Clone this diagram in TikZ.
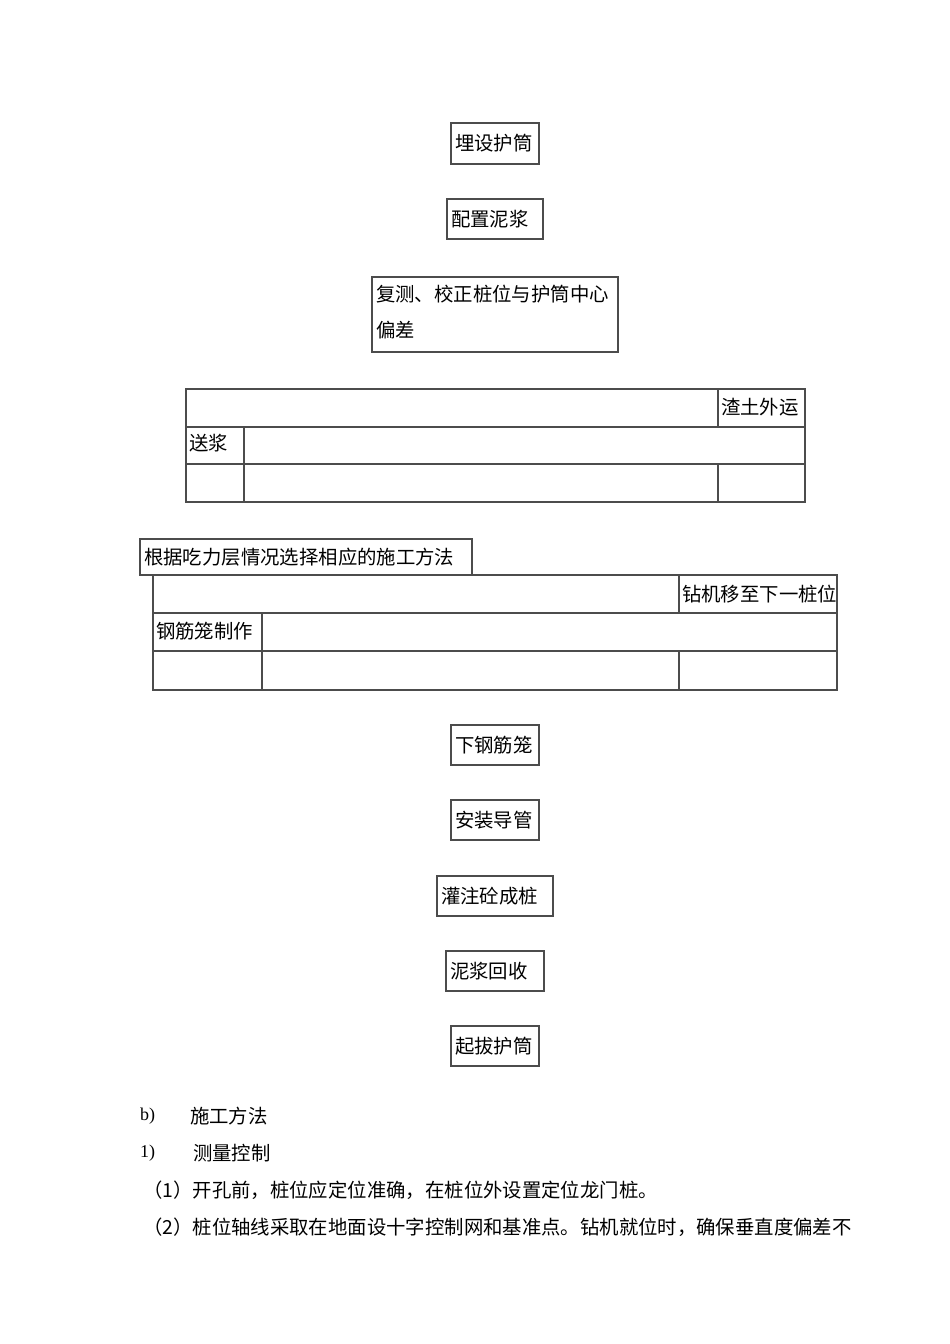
\documentclass[tikz,border=0pt]{standalone}
\usepackage{fontspec}
\setmainfont{Liberation Serif}
\newfontfamily\cjk{Noto Sans CJK SC}[Scale=1.14]
\begin{document}
\begin{tikzpicture}[x=1pt,y=-1pt,
  frame/.style={draw=black!70,line width=1.8pt},
  cell/.style={draw=black!70,line width=1.4pt},
  tx/.style={anchor=west,inner sep=0pt,font=\cjk\fontsize{17}{20}\selectfont}]
\useasboundingbox (0,0) rectangle (950,1344);
\newcommand{\bxx}[5]{\draw[frame] (#1,#2) rectangle (#3,#4); \node[tx] (#5) at (#1+4,{(#2+#4)/2})}
\bxx{451}{123}{539}{164}{n1} {埋设护筒};
\bxx{447}{199}{543}{239}{n2} {配置泥浆};
\draw[frame] (372,277) rectangle (618,352);
\node[tx] (n3) at (376,294) {复测、校正桩位与护筒中心};
\node[tx] (n3b) at (376,330) {偏差};
% table 1
\draw[frame] (186,389) rectangle (805,502);
\draw[cell] (186,427) -- (805,427) (186,464) -- (805,464)
  (718,389) -- (718,427) (244,427) -- (244,502) (718,464) -- (718,502);
\node[tx] (t1a) at (721,407) {渣土外运};
\node[tx] (t1b) at (189,443) {送浆};
% box 5
\bxx{140}{539}{472}{575}{n5} {根据吃力层情况选择相应的施工方法};
% table 2
\draw[frame] (153,575) rectangle (837,690);
\draw[cell] (153,613) -- (837,613) (153,651) -- (837,651)
  (679,575) -- (679,613) (262,613) -- (262,690) (679,651) -- (679,690);
\node[tx] (t2a) at (682,594) {钻机移至下一桩位};
\node[tx] (t2b) at (156,631) {钢筋笼制作};
\bxx{451}{725}{539}{765}{n7} {下钢筋笼};
\bxx{451}{800}{539}{840}{n8} {安装导管};
\bxx{437}{876}{553}{916}{n9} {灌注砼成桩};
\bxx{446}{951}{544}{991}{n10} {泥浆回收};
\bxx{451}{1026}{539}{1066}{n11} {起拔护筒};
% text
\node[tx,font=\fontsize{18}{20}\selectfont] (b) at (140,1116) {b)};
\node[tx] (b2) at (190,1116) {施工方法};
\node[tx,font=\fontsize{18}{20}\selectfont] (c) at (140,1153) {1)};
\node[tx] (c2) at (193,1153) {测量控制};
\node[tx] (p1) at (143,1190) {（1）开孔前，桩位应定位准确，在桩位外设置定位龙门桩。};
\node[tx] (p2) at (143,1227) {（2）桩位轴线采取在地面设十字控制网和基准点。钻机就位时，确保垂直度偏差不};
\end{tikzpicture}
\end{document}
